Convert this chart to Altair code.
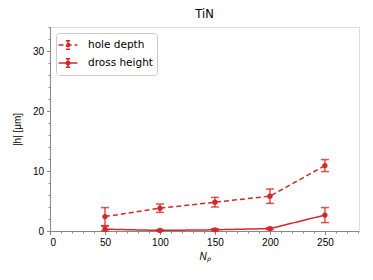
import altair as alt
import pandas as pd

np_vals = [50, 100, 150, 200, 250]
hole_depth = [2.4, 3.8, 4.8, 5.8, 10.9]
hole_err = [1.5, 0.7, 0.8, 1.2, 1.0]
dross_height = [0.3, 0.1, 0.2, 0.4, 2.65]
dross_err = [0.5, 0.12, 0.18, 0.18, 1.25]
series_names = ["hole depth", "dross height"]

x_major = [0, 50, 100, 150, 200, 250]
x_minor = [v for v in range(0, 281, 10) if v % 50 != 0]
y_major = [0, 10, 20, 30]
y_minor = [v for v in range(0, 35, 2) if v % 10 != 0]

rows = []
for name, vals, errs in [(series_names[0], hole_depth, hole_err),
                         (series_names[1], dross_height, dross_err)]:
    for xv, yv, ev in zip(np_vals, vals, errs):
        rows.append({"series": name, "Np": xv, "h": yv,
                     "lo": yv - ev, "hi": yv + ev})
df = pd.DataFrame(rows)

RED = "#d62728"
FONT = "DejaVu Sans"

xs = alt.Scale(domain=[0, 281], nice=False, zero=False)
ys = alt.Scale(domain=[0, 34], nice=False, zero=False, clamp=True)

x_axis = alt.Axis(values=x_major, title="Nₚ", titleFontStyle="italic", orient="bottom",
                  titleFontWeight="normal", titleFontSize=10, titlePadding=4,
                  grid=False, tickSize=3.5, labelPadding=3, format="d")
y_axis = alt.Axis(values=y_major, title="|h| [μm]", titleFontWeight="normal", orient="left",
                  titleFontSize=10, titlePadding=10, grid=False, tickSize=3.5,
                  labelPadding=3, format="d")

base = alt.Chart(df)

color = alt.Color("series:N", scale=alt.Scale(domain=series_names, range=[RED, RED]),
                  legend=alt.Legend(title=None, orient="top-left", offset=6,
                                    symbolType="M-1.3,0H1.3M0,-0.6V0.6M-0.3,-0.6H0.3M-0.3,0.6H0.3M0.24,0A0.24,0.24 0 1,1 -0.24,0A0.24,0.24 0 1,1 0.24,0Z",
                                    symbolSize=210, symbolStrokeWidth=1.5,
                                    symbolFillColor=RED, symbolStrokeColor=RED,
                                    labelFontSize=10.5, labelFont=FONT,
                                    fillColor="white", strokeColor="#cccccc",
                                    cornerRadius=3, padding=4, rowPadding=2,
                                    labelOffset=12))
dash = alt.StrokeDash("series:N", scale=alt.Scale(domain=series_names, range=[[5, 3], [1, 0]]),
                      legend=None)

lines = base.mark_line(strokeWidth=1.5).encode(
    x=alt.X("Np:Q", scale=xs, axis=x_axis),
    y=alt.Y("h:Q", scale=ys, axis=y_axis),
    color=color,
    strokeDash=dash,
    detail="series:N",
)

rules = base.mark_rule(color=RED, strokeWidth=1.5, opacity=0.8).encode(
    x=alt.X("Np:Q", scale=xs, axis=None), y=alt.Y("lo:Q", scale=ys, axis=None), y2="hi:Q")
cap_lo = base.mark_tick(color=RED, orient="horizontal", size=8, thickness=1.5, opacity=0.8).encode(
    x=alt.X("Np:Q", scale=xs, axis=None), y=alt.Y("lo:Q", scale=ys, axis=None))
cap_hi = base.mark_tick(color=RED, orient="horizontal", size=8, thickness=1.5, opacity=0.8).encode(
    x=alt.X("Np:Q", scale=xs, axis=None), y=alt.Y("hi:Q", scale=ys, axis=None))
points = base.mark_circle(color=RED, size=28, opacity=1).encode(
    x=alt.X("Np:Q", scale=xs, axis=None), y=alt.Y("h:Q", scale=ys, axis=None))

minor = base.mark_point(opacity=0).encode(
    x=alt.X("Np:Q", scale=xs, axis=alt.Axis(values=x_minor, labels=False, title=None,
                                             tickSize=2, domain=False, grid=False, orient="bottom")),
    y=alt.Y("h:Q", scale=ys, axis=alt.Axis(values=y_minor, labels=False, title=None,
                                            tickSize=2, domain=False, grid=False, orient="left")),
)

chart = alt.layer(lines, rules, cap_lo, cap_hi, points, minor).resolve_axis(
    x="independent", y="independent"
).properties(
    width=309, height=204,
    title=alt.TitleParams("TiN", font=FONT, fontSize=11.5, fontWeight="normal", offset=6),
    autosize=alt.AutoSizeParams(type="none"),
    padding={"left": 42, "top": 19, "right": 6, "bottom": 41},
).configure_view(
    stroke="black", strokeWidth=1
).configure_axis(
    labelFont=FONT, titleFont=FONT, labelFontSize=10, labelColor="black",
    titleColor="black", tickColor="black", domainColor="black", domainWidth=1,
    tickWidth=1
).configure(background="white")

chart.save("out.html", embed_options={"renderer": "svg", "actions": False})
